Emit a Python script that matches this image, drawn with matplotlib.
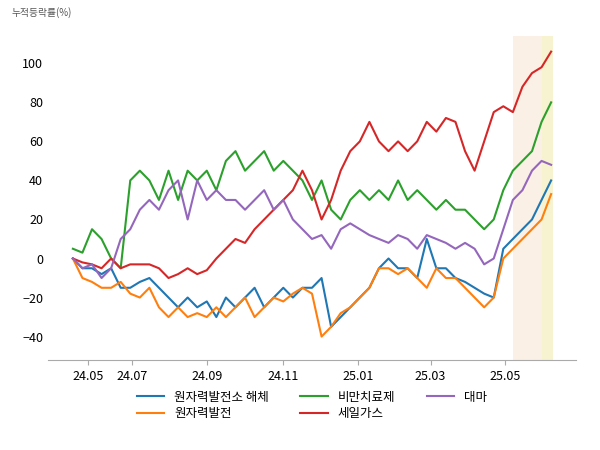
import matplotlib
matplotlib.use("Agg")
import matplotlib.pyplot as plt

plt.rcParams["font.family"] = "Noto Sans CJK KR"

x_idx = list(range(0, 251, 5))
tick_pos = [8, 31, 70, 110, 149, 187, 226]
tick_labels = ["24.05", "24.07", "24.09", "24.11", "25.01", "25.03", "25.05"]

s_blue = [0, -5, -5, -8, -5, -15, -15, -12, -10, -15, -20, -25, -20, -25, -22, -30, -20, -25, -20, -15,
          -25, -20, -15, -20, -15, -15, -10, -35, -30, -25, -20, -15, -5, 0, -5, -5, -10, 10, -5, -5,
          -10, -12, -15, -18, -20, 5, 10, 15, 20, 30, 40]
s_orange = [0, -10, -12, -15, -15, -12, -18, -20, -15, -25, -30, -25, -30, -28, -30, -25, -30, -25, -20, -30,
            -25, -20, -22, -18, -15, -18, -40, -35, -28, -25, -20, -15, -5, -5, -8, -5, -10, -15, -5, -10,
            -10, -15, -20, -25, -20, 0, 5, 10, 15, 20, 33]
s_green = [5, 3, 15, 10, 0, -5, 40, 45, 40, 30, 45, 30, 45, 40, 45, 35, 50, 55, 45, 50,
           55, 45, 50, 45, 40, 30, 40, 25, 20, 30, 35, 30, 35, 30, 40, 30, 35, 30, 25, 30,
           25, 25, 20, 15, 20, 35, 45, 50, 55, 70, 80]
s_red = [0, -2, -3, -5, 0, -5, -3, -3, -3, -5, -10, -8, -5, -8, -6, 0, 5, 10, 8, 15,
         20, 25, 30, 35, 45, 35, 20, 30, 45, 55, 60, 70, 60, 55, 60, 55, 60, 70, 65, 72,
         70, 55, 45, 60, 75, 78, 75, 88, 95, 98, 106]
s_purple = [0, -5, -3, -10, -5, 10, 15, 25, 30, 25, 35, 40, 20, 40, 30, 35, 30, 30, 25, 30,
            35, 25, 30, 20, 15, 10, 12, 5, 15, 18, 15, 12, 10, 8, 12, 10, 5, 12, 10, 8,
            5, 8, 5, -3, 0, 15, 30, 35, 45, 50, 48]

series = [("원자력발전소 해체", s_blue, "#1f77b4"), ("원자력발전", s_orange, "#ff7f0e"),
          ("비만치료제", s_green, "#2ca02c"), ("세일가스", s_red, "#d62728"),
          ("대마", s_purple, "#9467bd")]

fig, ax = plt.subplots(figsize=(6, 4.5), dpi=100)
fig.subplots_adjust(left=0.08, right=0.96, top=0.92, bottom=0.2)
ax.axvspan(230, 245, color="#f6e3cc", alpha=0.5, lw=0)
ax.axvspan(245, 251, color="#f3eab0", alpha=0.6, lw=0)
for name, vals, c in series:
    ax.plot(x_idx, vals, color=c, lw=1.5, label=name)
ax.set_xlim(-13, 263)
ax.set_ylim(-52, 114)
ax.set_yticks([-40, -20, 0, 20, 40, 60, 80, 100])
ax.set_xticks(tick_pos)
ax.set_xticklabels(tick_labels)
for s in ["top", "right", "left"]:
    ax.spines[s].set_visible(False)
ax.spines["bottom"].set_color("#aaaaaa")
ax.tick_params(axis="y", length=0, labelsize=9)
ax.tick_params(axis="x", labelsize=9, color="#aaaaaa")
fig.text(0.02, 0.965, "누적등락률(%)", fontsize=7, color="#555555")
ax.legend(loc="upper center", bbox_to_anchor=(0.5, -0.06), ncol=3, frameon=False, fontsize=9,
          handlelength=2.2, columnspacing=2.5, labelspacing=0.3)
fig.savefig("out.png")
